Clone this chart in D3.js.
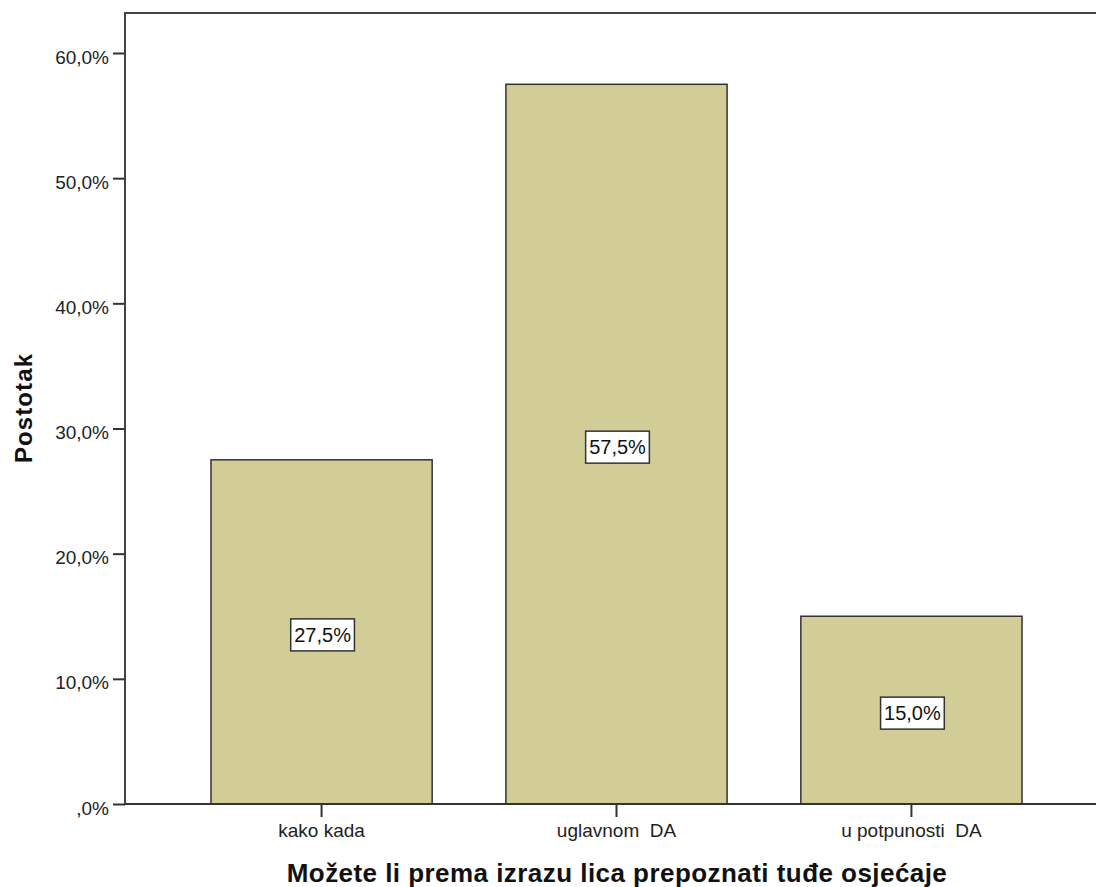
<!DOCTYPE html>
<html><head><meta charset="utf-8">
<script src="https://d3js.org/d3.v7.min.js"></script>
<style>
body{margin:0;background:#fff;}
text{font-family:"Liberation Sans",Arial,sans-serif;}
</style></head>
<body><svg id="c" width="1096" height="887"></svg>
<script>
const categories = ["kako kada", "uglavnom  DA", "u potpunosti  DA"];
const values = [27.5, 57.5, 15.0];
const valueLabels = ["27,5%", "57,5%", "15,0%"];
const yTicks = [0, 10, 20, 30, 40, 50, 60];
const yTickLabels = [",0%", "10,0%", "20,0%", "30,0%", "40,0%", "50,0%", "60,0%"];
const yTitle = "Postotak";
const xTitle = "Možete li prema izrazu lica prepoznati tuđe osjećaje";

const svg = d3.select("#c");
const L = 125, T = 13, R = 1108, B = 804;
const y = d3.scaleLinear().domain([0, 60]).range([B, 53]);
const x = d3.scaleBand().domain(categories).range([L, R]).paddingInner(0.25).paddingOuter(0.2915);

// bars
svg.selectAll("rect.bar").data(values).join("rect").attr("class","bar")
  .attr("x",(d,i)=>x(categories[i])).attr("width",x.bandwidth())
  .attr("y",d=>y(d)).attr("height",d=>B-y(d))
  .attr("fill","#d2cd96").attr("stroke","#333").attr("stroke-width",1.5);

// frame
svg.append("path").attr("d", `M${L},${B}V${T}H1096`).attr("fill","none").attr("stroke","#444").attr("stroke-width",2);

// y axis
const ya = d3.axisLeft(y).tickValues(yTicks).tickSize(12).tickPadding(4).tickSizeOuter(0).tickFormat((d,i)=>yTickLabels[i]);
const yg = svg.append("g").attr("transform",`translate(${L},0)`).call(ya);
yg.select(".domain").remove();
yg.selectAll("line").attr("stroke","#333").attr("stroke-width",2);
yg.selectAll("text").attr("font-size",19).attr("fill","#222").attr("dy","0.53em");

// x axis
const xa = d3.axisBottom(x).tickSize(13).tickSizeOuter(0);
const xg = svg.append("g").attr("transform",`translate(0,${B})`).call(xa);
xg.select(".domain").attr("stroke","#333").attr("stroke-width",2).attr("d",`M${L},0H1096`);
xg.selectAll("line").attr("stroke","#333").attr("stroke-width",2);
xg.selectAll("text").attr("font-size",19).attr("fill","#222").attr("dy","0.9em").style("white-space","pre");

// value labels
const lg = svg.selectAll("g.vl").data(values).join("g").attr("class","vl")
  .attr("transform",(d,i)=>`translate(${x(categories[i])+x.bandwidth()/2 + 1},${y(d/2)+3})`);
const rects = lg.append("rect").attr("fill","#fff").attr("stroke","#333").attr("stroke-width",1.5);
const texts = lg.append("text").attr("text-anchor","middle").attr("dy","0.36em").attr("font-size",20).attr("fill","#111")
  .text((d,i)=>valueLabels[i]);
texts.each(function(d,i){
  const w = this.getComputedTextLength() + 7;
  d3.select(rects.nodes()[i]).attr("x",-w/2).attr("y",-16).attr("width",w).attr("height",32);
});

// titles
svg.append("text").attr("transform","translate(32,408) rotate(-90)").attr("text-anchor","middle")
  .attr("font-size",24).attr("font-weight","bold").attr("fill","#111").attr("letter-spacing",1.1).text(yTitle);
svg.append("text").attr("x",617).attr("y",882).attr("text-anchor","middle")
  .attr("font-size",26).attr("font-weight","bold").attr("fill","#111").attr("letter-spacing",0.45).text(xTitle);
</script></body></html>
